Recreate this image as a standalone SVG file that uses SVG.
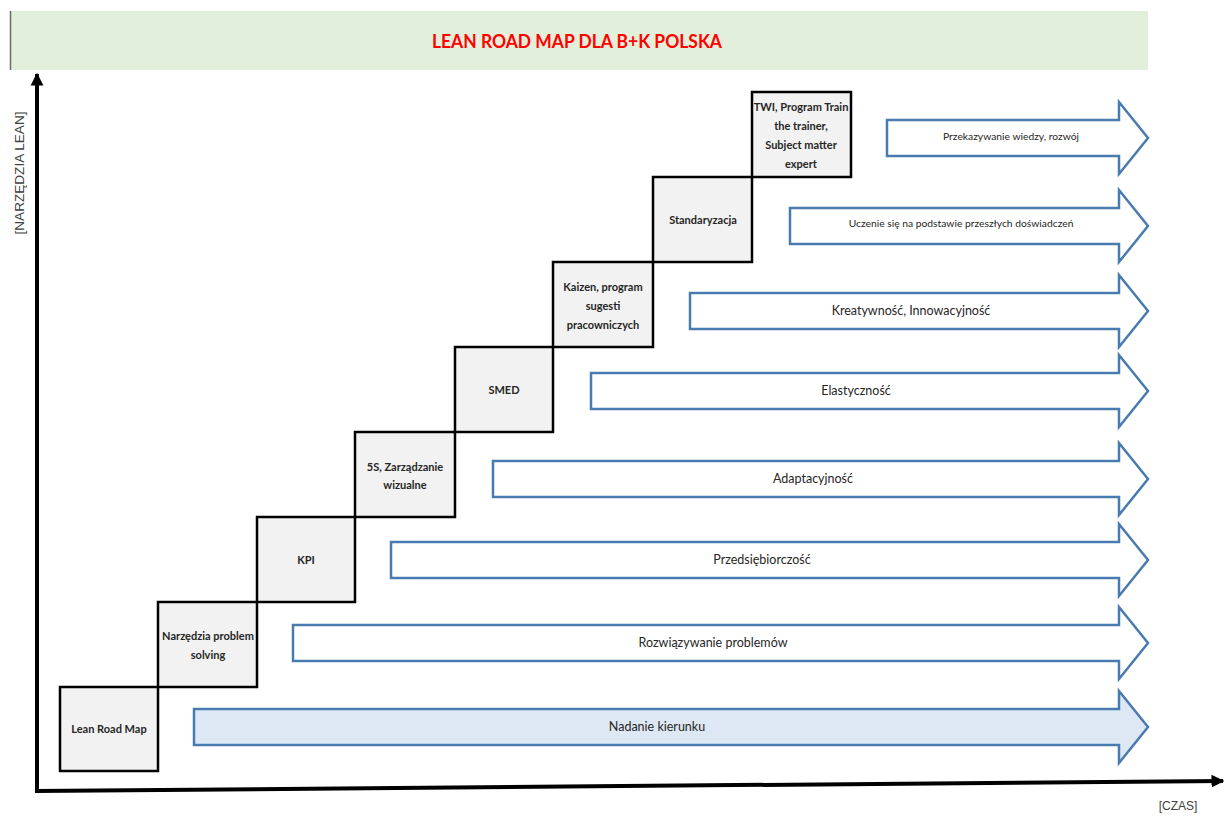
<svg xmlns="http://www.w3.org/2000/svg" width="1227" height="816" viewBox="0 0 1227 816">
<style>
.step{fill:#f2f2f2;stroke:#000;stroke-width:2.5}
.st{font-family:Lato,"Liberation Sans",sans-serif;font-weight:bold;font-size:11px;fill:#262626;text-anchor:middle}
.arr{fill:#fff;stroke:#4a7bb0;stroke-width:2.5;stroke-linejoin:miter}
.arr1{fill:#dde8f4}
.at{font-family:Lato,"Liberation Sans",sans-serif;font-size:12.5px;fill:#262626;text-anchor:middle}
.ats{font-size:10.3px}
.ax{font-family:"Liberation Sans",Arial,sans-serif;font-size:12px;fill:#404040;text-anchor:middle}
</style>
<defs>
<marker id="ah" viewBox="0 0 10 10" refX="9" refY="5" markerWidth="3.2" markerHeight="3.5" orient="auto" markerUnits="strokeWidth">
<path d="M0,0 L10,5 L0,10 Z" fill="#000"/>
</marker>
</defs>
<g id="title">
<rect x="10" y="11" width="1138" height="59" fill="#e2efda"/>
<line x1="10.5" y1="11" x2="10.5" y2="70" stroke="#6b6b6b" stroke-width="1.5"/>
<text x="577" y="48" font-family="Lato,'Liberation Sans',sans-serif" font-weight="bold" font-size="18" fill="#ff0000" text-anchor="middle" textLength="290" lengthAdjust="spacingAndGlyphs">LEAN ROAD MAP DLA B+K POLSKA</text>
</g>
<g id="connectors">
<line x1="37" y1="793" x2="37" y2="74" stroke="#000" stroke-width="4" marker-end="url(#ah)"/>
<line x1="35" y1="791" x2="1223" y2="781" stroke="#000" stroke-width="4" marker-end="url(#ah)"/>
</g>
<text class="ax" transform="translate(24,173) rotate(-90)" textLength="123" lengthAdjust="spacingAndGlyphs">[NARZĘDZIA LEAN]</text>
<text class="ax" x="1178" y="810">[CZAS]</text>
<g id="arrow-nadanie">
<path class="arr arr1" d="M194,709 H1119 V691 L1148,727 L1119,763 V745 H194 Z"/>
<text class="at" x="657" y="731">Nadanie kierunku</text>
</g>
<g id="arrow-rozwiazywanie">
<path class="arr" d="M293,625 H1119 V607 L1148,643 L1119,679 V661 H293 Z"/>
<text class="at" x="713" y="647">Rozwiązywanie problemów</text>
</g>
<g id="arrow-przedsiebiorczosc">
<path class="arr" d="M391,542 H1119 V524 L1148,560 L1119,596 V578 H391 Z"/>
<text class="at" x="762" y="564">Przedsiębiorczość</text>
</g>
<g id="arrow-adaptacyjnosc">
<path class="arr" d="M493,461 H1119 V443 L1148,479 L1119,515 V497 H493 Z"/>
<text class="at" x="813" y="483">Adaptacyjność</text>
</g>
<g id="arrow-elastycznosc">
<path class="arr" d="M591,373 H1119 V355 L1148,391 L1119,427 V409 H591 Z"/>
<text class="at" x="856" y="395">Elastyczność</text>
</g>
<g id="arrow-kreatywnosc">
<path class="arr" d="M690,293 H1119 V275 L1148,311 L1119,347 V329 H690 Z"/>
<text class="at" x="911" y="315">Kreatywność, Innowacyjność</text>
</g>
<g id="arrow-uczenie">
<path class="arr" d="M790,208 H1119 V190 L1148,226 L1119,262 V244 H790 Z"/>
<text class="at ats" x="961" y="227">Uczenie się na podstawie przeszłych doświadczeń</text>
</g>
<g id="arrow-przekazywanie">
<path class="arr" d="M887,120 H1119 V102 L1148,138 L1119,174 V156 H887 Z"/>
<text class="at ats" x="1011" y="140">Przekazywanie wiedzy, rozwój</text>
</g>
<g id="step-leanroadmap">
<rect class="step" x="60" y="687" width="98" height="84"/>
<text class="st" x="109" y="733">Lean Road Map</text>
</g>
<g id="step-narzedzia">
<rect class="step" x="158" y="602" width="99" height="85"/>
<text class="st" x="208" y="640">Narzędzia problem</text>
<text class="st" x="208" y="659">solving</text>
</g>
<g id="step-kpi">
<rect class="step" x="257" y="517" width="98" height="85"/>
<text class="st" x="306" y="564">KPI</text>
</g>
<g id="step-5s">
<rect class="step" x="355" y="432" width="100" height="85"/>
<text class="st" x="405" y="471">5S, Zarządzanie</text>
<text class="st" x="405" y="489">wizualne</text>
</g>
<g id="step-smed">
<rect class="step" x="455" y="347" width="98" height="85"/>
<text class="st" x="504" y="394">SMED</text>
</g>
<g id="step-kaizen">
<rect class="step" x="553" y="262" width="100" height="85"/>
<text class="st" x="603" y="291">Kaizen, program</text>
<text class="st" x="603" y="310">sugesti</text>
<text class="st" x="603" y="329">pracowniczych</text>
</g>
<g id="step-standaryzacja">
<rect class="step" x="653" y="177" width="99" height="85"/>
<text class="st" x="703" y="224">Standaryzacja</text>
</g>
<g id="step-twi">
<rect class="step" x="752" y="92" width="99" height="85"/>
<text class="st" x="801" y="111">TWI, Program Train</text>
<text class="st" x="801" y="130">the trainer,</text>
<text class="st" x="801" y="149">Subject matter</text>
<text class="st" x="801" y="168">expert</text>
</g>
</svg>
